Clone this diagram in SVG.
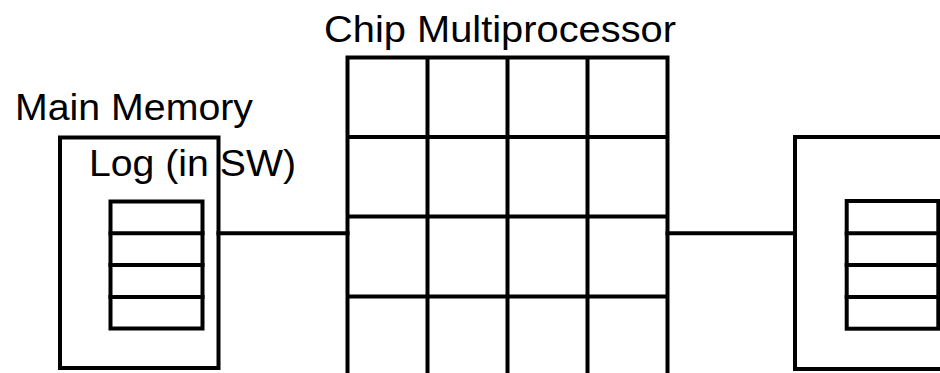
<svg xmlns="http://www.w3.org/2000/svg" width="940" height="373" viewBox="0 0 940 373">
  <style>
    .ln { fill: none; stroke: #000; stroke-width: 4; stroke-linecap: square; }
    .lbl { font-family: "Liberation Sans", Arial, sans-serif; font-size: 37px; fill: #000; }
  </style>
  <rect x="0" y="0" width="940" height="373" fill="#fff"/>

  <!-- Chip multiprocessor: grid of cores -->
  <g id="cmp">
    <text class="lbl" x="324" y="42" textLength="352" lengthAdjust="spacingAndGlyphs">Chip Multiprocessor</text>
    <path class="ln" d="M347.5,57.5 V380 M427.5,57.5 V380 M507.5,57.5 V380 M587.5,57.5 V380 M667.5,57.5 V380
                        M347.5,57.5 H667.5 M347.5,137 H667.5 M347.5,216.5 H667.5 M347.5,296.5 H667.5 M347.5,376 H667.5"/>
  </g>

  <!-- Main memory holding the software log -->
  <g id="main-memory">
    <text class="lbl" x="15" y="119.5" textLength="238" lengthAdjust="spacingAndGlyphs">Main Memory</text>
    <rect class="ln" x="60" y="137.5" width="158.5" height="230.5"/>
    <text class="lbl" x="89" y="176" textLength="207" lengthAdjust="spacingAndGlyphs">Log (in SW)</text>
    <rect class="ln" x="110.5" y="201.5" width="92" height="127"/>
    <path class="ln" d="M110.5,233.3 H202.5 M110.5,265 H202.5 M110.5,297 H202.5"/>
  </g>

  <!-- Second memory on the right -->
  <g id="right-memory">
    <rect class="ln" x="795" y="137" width="160" height="232"/>
    <rect class="ln" x="846.7" y="201" width="91.6" height="127.7"/>
    <path class="ln" d="M846.7,233.3 H938.3 M846.7,265 H938.3 M846.7,297 H938.3"/>
  </g>

  <!-- Interconnect links -->
  <g id="connectors">
    <line class="ln" x1="218.5" y1="233.3" x2="347.5" y2="233.3"/>
    <line class="ln" x1="667.5" y1="233.3" x2="795" y2="233.3"/>
  </g>
</svg>
